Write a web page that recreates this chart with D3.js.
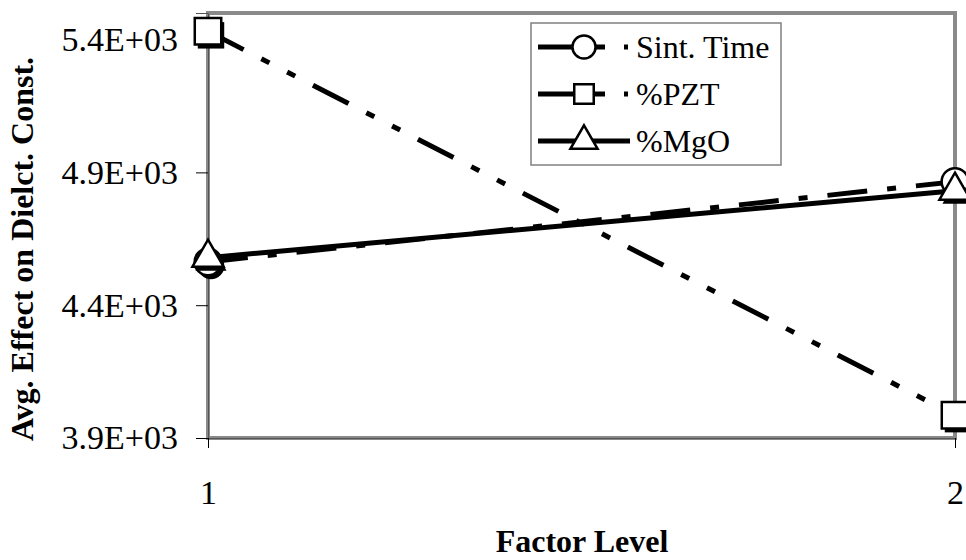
<!DOCTYPE html>
<html>
<head>
  <meta charset="utf-8">
  <title>Factor level effects</title>
  <script src="https://d3js.org/d3.v7.min.js"></script>
  <style>
    body { margin: 0; background: #fff; }
    text { font-family: "Liberation Serif", serif; fill: #000; }
  </style>
</head>
<body>
  <div id="chart"></div>
  <script>
    // data
    var levels = ["1", "2"];
    var sintTime = [4563, 4865];
    var pztPct = [5431, 3986];
    var mgoPct = [4579, 4831];
    var yTicks = [3900, 4400, 4900, 5400];
    var seriesNames = ["Sint. Time", "%PZT", "%MgO"];

    var W = 966, H = 560;
    var svg = d3.select("#chart").append("svg")
      .attr("width", W)
      .attr("height", H);

    var x = d3.scalePoint().domain(levels).range([208, 955]).padding(0);
    var y = d3.scaleLinear().domain([3900, 5500]).range([438, 13]);

    // Excel style "3.9E+03"
    function sci(v) {
      var e = Math.floor(Math.log10(v));
      var m = v / Math.pow(10, e);
      return m.toFixed(1) + "E+" + (e < 10 ? "0" : "") + e;
    }

    // plot area border
    svg.append("rect")
      .attr("x", x("1")).attr("y", y(5500))
      .attr("width", x("2") - x("1")).attr("height", y(3900) - y(5500))
      .attr("fill", "none").attr("stroke", "#8a8a8a").attr("stroke-width", 4);

    // y axis
    var yAxis = svg.append("g")
      .attr("transform", "translate(" + x("1") + ",0)")
      .call(d3.axisLeft(y).tickValues(yTicks).tickSize(12).tickPadding(18).tickFormat(sci));
    yAxis.select(".domain").attr("stroke", "#555").attr("stroke-width", 1);
    yAxis.selectAll(".tick line").attr("stroke", "#000");
    yAxis.selectAll(".tick text")
      .style("font-family", "Liberation Serif").style("font-size", "34px");

    // x axis
    var xAxis = svg.append("g")
      .attr("transform", "translate(0," + y(3900) + ")")
      .call(d3.axisBottom(x).tickSize(10).tickPadding(32));
    xAxis.select(".domain").attr("stroke", "#555").attr("stroke-width", 1);
    xAxis.selectAll(".tick line").attr("stroke", "#000");
    xAxis.selectAll(".tick text")
      .style("font-family", "Liberation Serif").style("font-size", "34px");

    // titles
    svg.append("text")
      .attr("x", 582).attr("y", 552)
      .attr("text-anchor", "middle")
      .style("font-family", "Liberation Serif")
      .style("font-size", "32px").style("font-weight", "bold")
      .text("Factor Level");

    svg.append("text")
      .attr("transform", "translate(33,249) rotate(-90)")
      .attr("text-anchor", "middle")
      .style("font-family", "Liberation Serif")
      .style("font-size", "32px").style("font-weight", "bold")
      .text("Avg. Effect on Dielct. Const.");

    var series = [
      { name: seriesNames[0], values: sintTime, dash: "40,20,9,20", shape: d3.symbolCircle, size: 560 },
      { name: seriesNames[1], values: pztPct, dash: "40,20,9,20,9,20", shape: d3.symbolSquare, size: 700 },
      { name: seriesNames[2], values: mgoPct, dash: null, shape: d3.symbolTriangle, size: 420 }
    ];

    var line = d3.line()
      .x(function (d, i) { return x(levels[i]); })
      .y(function (d) { return y(d); });

    series.forEach(function (s) {
      var g = svg.append("g");
      g.append("path")
        .attr("d", line(s.values))
        .attr("fill", "none")
        .attr("stroke", "#000")
        .attr("stroke-width", 5)
        .attr("stroke-dasharray", s.dash);

      var sym = d3.symbol().type(s.shape).size(s.size);
      s.values.forEach(function (v, i) {
        var cx = x(levels[i]), cy = y(v);
        // black drop shadow like the original
        g.append("path")
          .attr("d", sym())
          .attr("transform", "translate(" + (cx + 3) + "," + (cy + 4) + ")")
          .attr("fill", "#000");
        g.append("path")
          .attr("d", sym())
          .attr("transform", "translate(" + cx + "," + cy + ")")
          .attr("fill", "#fff")
          .attr("stroke", "#000")
          .attr("stroke-width", 2.5);
      });
    });

    // legend
    var lg = svg.append("g");
    lg.append("rect")
      .attr("x", 531).attr("y", 23).attr("width", 250).attr("height", 142)
      .attr("fill", "#fff").attr("stroke", "#808080").attr("stroke-width", 1.5);

    var legendDash = ["67,19,4,40", "67,19,4,40", null];
    var legendSize = [420, 380, 320];
    series.forEach(function (s, i) {
      var ly = 47 + i * 47;
      lg.append("path")
        .attr("d", "M538," + ly + "H630")
        .attr("stroke", "#000").attr("stroke-width", 5)
        .attr("stroke-dasharray", legendDash[i]);
      lg.append("path")
        .attr("d", d3.symbol().type(s.shape).size(legendSize[i])())
        .attr("transform", "translate(584," + ly + ")")
        .attr("fill", "#fff").attr("stroke", "#000").attr("stroke-width", 2.5);
      lg.append("text")
        .attr("x", 636).attr("y", ly).attr("dy", "0.35em")
        .style("font-family", "Liberation Serif")
        .style("font-size", "32px")
        .text(s.name);
    });
  </script>
</body>
</html>
